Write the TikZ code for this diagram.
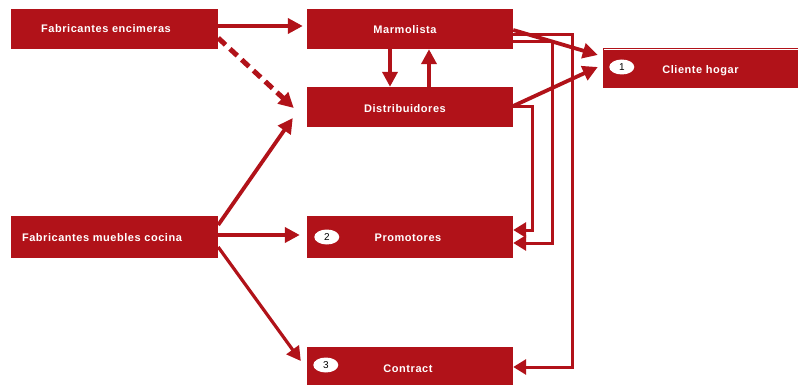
\documentclass[tikz,border=0pt]{standalone}
\usepackage{fontspec}
\setmainfont{Liberation Sans}
\newfontfamily\boxfont[LetterSpace=5]{Liberation Sans}
\usetikzlibrary{arrows.meta,calc,shapes.geometric}
\definecolor{dr}{HTML}{B11219}
\tikzset{
  box/.style={fill=dr, draw=none, inner sep=0pt, minimum width=206pt, minimum height=40pt},
  boxtext/.style={text=white, font=\boxfont\bfseries\fontsize{11}{12}\selectfont, inner sep=0pt},
  num/.style={ellipse, fill=white, draw=none, minimum width=25pt, minimum height=15pt, inner sep=0pt, font=\fontsize{10}{11}\selectfont},
  arr/.style={draw=dr, line width=3.8pt, -{Triangle[length=15pt,width=15pt]}},
  arrthin/.style={draw=dr, line width=3.2pt, -{Triangle[length=14pt,width=15pt]}},
  route/.style={draw=dr, line width=3pt, -{Triangle[length=13pt,width=15pt]}},
  dasharr/.style={draw=dr, line width=5pt, dash pattern=on 10pt off 6pt, -{Triangle[length=15pt,width=15pt]}},
}
\begin{document}
\begin{tikzpicture}[x=1pt,y=-1pt]
\useasboundingbox (0,0) rectangle (798,385);
% boxes
\node[box, minimum width=207pt] (enc) at (114.5,29) {};
\node[box] (marm) at (410,29) {};
\node[box] (dist) at (410,107) {};
\node[box, minimum width=195pt] (cli) at (700.5,68) {};
\node[box, minimum width=207pt, minimum height=42pt] (mue) at (114.5,237) {};
\node[box, minimum height=42pt] (prom) at (410,237) {};
\node[box] (contr) at (410,367) {};
\draw[white, line width=0.8pt] ($(cli.north west)+(1,2)$) -- ($(cli.north east)+(0,2)$);
% texts
\node[boxtext] (tenc) at ($(enc.center)+(-8.5,0)$) {Fabricantes encimeras};
\node[boxtext] (tmarm) at ($(marm.center)+(-5,1)$) {Marmolista};
\node[boxtext] (tdist) at ($(dist.center)+(-5,2)$) {Distribuidores};
\node[boxtext] (tcli) at ($(cli.center)+(0,3)$) {Cliente hogar};
\node[boxtext] (tmue) at ($(mue.center)+(-12.5,1)$) {Fabricantes muebles cocina};
\node[boxtext] (tprom) at ($(prom.center)+(-2,1)$) {Promotores};
\node[boxtext] (tcontr) at ($(contr.center)+(-2,2)$) {Contract};
% numbers
\node[num] (n1) at ($(cli.west)+(19,-1)$) {1};
\node[num] (n2) at ($(prom.west)+(20,0)$) {2};
\node[num] (n3) at ($(contr.west)+(19,-2)$) {3};
% connectors
\draw[arr] ($(enc.east)+(0,-3)$) -- ($(marm.west)+(-4,-3)$);
\draw[dasharr] ($(enc.east)+(0,9)$) -- ($(dist.west)+(-13,1)$);
\draw[arr] ($(marm.south)+(-20,0)$) -- ($(dist.north)+(-20,0)$);
\draw[arr] ($(dist.north)+(19,0)$) -- ($(marm.south)+(19,0)$);
\draw[arr] ($(marm.east)+(0,1)$) -- ($(cli.west)+(-5,-13)$);
\draw[arr] ($(dist.east)+(0,-1)$) -- ($(cli.west)+(-5,-1)$);
\draw[route] ($(marm.east)+(0,6)$) -- ++(59,0) |- (contr.east);
\draw[route] ($(marm.east)+(0,13)$) -- ++(39,0) |- ($(prom.east)+(0,6)$);
\draw[route] (dist.east) -- ++(19,0) |- ($(prom.east)+(0,-7)$);
\draw[arr] ($(mue.east)+(0,-12)$) -- ($(dist.west)+(-14,11)$);
\draw[arr] ($(mue.east)+(0,-2)$) -- ($(prom.west)+(-7,-2)$);
\draw[arrthin] ($(mue.east)+(0,10)$) -- ($(contr.west)+(-6,-6)$);
\end{tikzpicture}
\end{document}
